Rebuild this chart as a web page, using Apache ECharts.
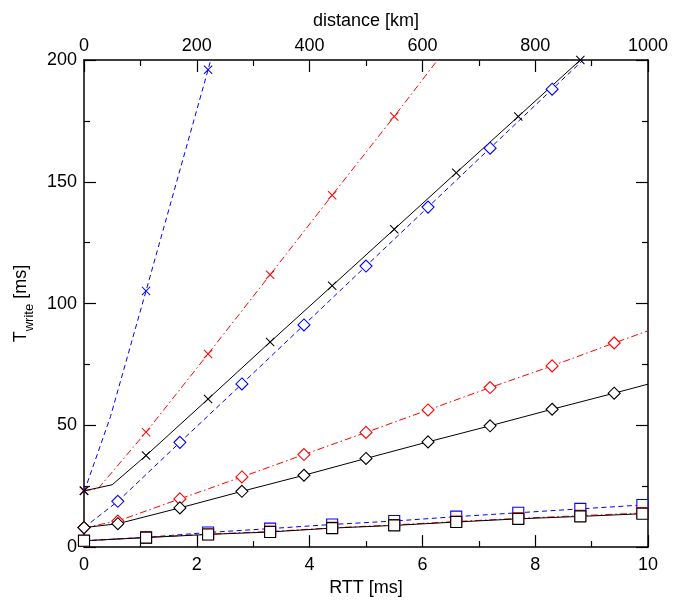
<!DOCTYPE html>
<html>
<head>
<meta charset="utf-8">
<script src="https://cdn.jsdelivr.net/npm/echarts@6/dist/echarts.min.js"></script>
<style>
html,body{margin:0;padding:0;background:#fff;}
#chart{width:687px;height:602px;}
</style>
</head>
<body>
<div id="chart"></div>
<script>
// marker positions (RTT, ms)
const rttMarks = [0, 1.1, 2.2, 3.3, 4.4, 5.5, 6.6, 7.7, 8.8, 9.9];
const rttDiamondMarks = [0, 0.6, 1.7, 2.8, 3.9, 5.0, 6.1, 7.2, 8.3, 9.4];

// x-marker series
const blueCrossX = [0, 0.03, 0.47, 1.1, 2.2, 2.24];
const blueCrossY = [23.1, 24.5, 53.6, 105.2, 196.0, 199.5];
const redCrossX = [0, 0.25, 1.1, 2.2, 3.3, 4.4, 5.5, 6.27];
const redCrossY = [23.1, 24.0, 47.2, 79.3, 111.8, 144.5, 176.8, 200];
const blackCrossX = [0, 0.5, 1.1, 2.2, 3.3, 4.4, 5.5, 6.6, 7.7, 8.8];
const blackCrossY = [23.1, 25.6, 37.6, 60.8, 84.2, 107.3, 130.5, 153.7, 176.8, 200];

// diamond series
const blueDiamondX = [0, 0.6, 1.7, 2.8, 3.9, 5.0, 6.1, 7.2, 8.3, 8.85];
const blueDiamondY = [8.0, 18.8, 43.0, 67.0, 91.2, 115.4, 139.6, 163.8, 188.0, 200];
const diamondX = [0, 0.6, 1.7, 2.8, 3.9, 5.0, 6.1, 7.2, 8.3, 9.4, 10];
const redDiamondY = [8.0, 10.7, 19.8, 28.8, 38.0, 47.1, 56.3, 65.5, 74.4, 83.8, 88.8];
const blackDiamondY = [8.0, 9.6, 16.1, 22.9, 29.5, 36.4, 43.2, 49.8, 56.6, 63.2, 66.9];

// square series
const squareX = [0, 1.1, 2.2, 3.3, 4.4, 5.5, 6.6, 7.7, 8.8, 9.9, 10];
const blueSquareY = [2.6, 4.0, 6.0, 7.6, 9.3, 10.7, 12.5, 14.1, 15.7, 17.3, 17.4];
const redSquareY = [2.6, 4.0, 5.3, 6.4, 7.9, 9.1, 10.5, 11.8, 12.9, 14.0, 14.1];
const blackSquareY = [2.6, 3.9, 5.2, 6.2, 7.8, 8.9, 10.3, 11.6, 12.6, 13.7, 13.8];

// tick labels
const rttTicks = [0, 2, 4, 6, 8, 10];
const distTicks = [0, 200, 400, 600, 800, 1000];
const tTicks = [0, 50, 100, 150, 200];

const CROSS = 'path://M0,0.8 L0.8,0 L5,4.2 L9.2,0 L10,0.8 L5.8,5 L10,9.2 L9.2,10 L5,5.8 L0.8,10 L0,9.2 L4.2,5 Z';
const BLUE = '#0000ff', RED = '#ff0000', BLACK = '#000000';
const DASH = [5, 3.5];
const DASHDOT = [7, 3, 1.5, 3];

function mk(name, xs, ys, marks, color, lineType, symbol, size) {
  const data = xs.map((x, i) => {
    const on = marks.some(m => Math.abs(m - x) < 1e-9);
    return on ? { value: [x, ys[i]] } : { value: [x, ys[i]], symbol: 'none' };
  });
  const isCross = symbol === CROSS;
  return {
    name: name, type: 'line', data: data,
    xAxisIndex: 0, yAxisIndex: 0,
    symbol: symbol, symbolSize: size, showAllSymbol: true,
    lineStyle: { color: color, width: 1, type: lineType },
    itemStyle: isCross
      ? { color: color, borderWidth: 0 }
      : { color: '#ffffff', borderColor: color, borderWidth: 1.1 },
    emphasis: { disabled: true },
    animation: false, clip: true
  };
}

const series = [
  mk('bs', squareX, blueSquareY, rttMarks, BLUE, DASH, 'rect', 11),
  mk('bd', blueDiamondX, blueDiamondY, rttDiamondMarks, BLUE, DASH, 'diamond', 12),
  mk('bx', blueCrossX, blueCrossY, rttMarks, BLUE, DASH, CROSS, 9),
  mk('rs', squareX, redSquareY, rttMarks, RED, DASHDOT, 'rect', 11),
  mk('rd', diamondX, redDiamondY, rttDiamondMarks, RED, DASHDOT, 'diamond', 12),
  mk('rx', redCrossX, redCrossY, rttMarks, RED, DASHDOT, CROSS, 9),
  mk('ks', squareX, blackSquareY, rttMarks, BLACK, 'solid', 'rect', 11),
  mk('kd', diamondX, blackDiamondY, rttDiamondMarks, BLACK, 'solid', 'diamond', 12),
  mk('kx', blackCrossX, blackCrossY, rttMarks, BLACK, 'solid', CROSS, 9)
];

const FONT = 'Liberation Sans, Arial, sans-serif';
function lbl(ticks) {
  return function (v) {
    const hit = ticks.find(t => Math.abs(t - v) < 1e-9);
    return hit === undefined ? '' : String(hit);
  };
}
const axisCommon = {
  type: 'value',
  axisLine: { show: true, onZero: false, lineStyle: { color: '#000', width: 1.5 } },
  axisTick: { show: true, inside: true, length: 12, lineStyle: { color: '#000', width: 1.2 } },
  minorTick: { show: true, splitNumber: 2, length: 6, lineStyle: { color: '#000', width: 1.2 } },
  splitLine: { show: false },
  minorSplitLine: { show: false },
  nameTextStyle: { color: '#000', fontSize: 18, fontFamily: FONT }
};
const labelStyle = { color: '#000', fontSize: 18, fontFamily: FONT };

const chart = echarts.init(document.getElementById('chart'), null, { renderer: 'canvas' });
chart.setOption({
  backgroundColor: '#fff',
  animation: false,
  grid: { left: 84, right: 39, top: 60, bottom: 50, containLabel: false },
  xAxis: [
    Object.assign({}, axisCommon, {
      position: 'bottom', min: 0, max: 10, interval: 2,
      name: 'RTT [ms]', nameLocation: 'middle', nameGap: 30,
      axisLabel: Object.assign({}, labelStyle, { margin: 9, formatter: lbl(rttTicks) })
    }),
    Object.assign({}, axisCommon, {
      position: 'top', min: 0, max: 1000, interval: 200,
      name: 'distance [km]', nameLocation: 'middle', nameGap: 30,
      axisLabel: Object.assign({}, labelStyle, { margin: 5, formatter: lbl(distTicks) })
    })
  ],
  yAxis: [
    Object.assign({}, axisCommon, {
      position: 'left', min: 0, max: 200, interval: 50,
      name: '{t|T}{s|write}{t| [ms]}', nameLocation: 'middle', nameRotate: 90, nameGap: 46,
      nameTextStyle: {
        color: '#000', fontFamily: FONT,
        rich: {
          t: { fontSize: 18, fontFamily: FONT, color: '#000', lineHeight: 24, verticalAlign: 'top' },
          s: { fontSize: 13, fontFamily: FONT, color: '#000', lineHeight: 24, verticalAlign: 'bottom', padding: [9, 0, 0, 0] }
        }
      },
      axisLabel: Object.assign({}, labelStyle, { margin: 7, formatter: lbl(tTicks) })
    }),
    Object.assign({}, axisCommon, {
      position: 'right', min: 0, max: 200, interval: 50,
      axisLabel: { show: false }
    })
  ],
  series: series
});
</script>
</body>
</html>
